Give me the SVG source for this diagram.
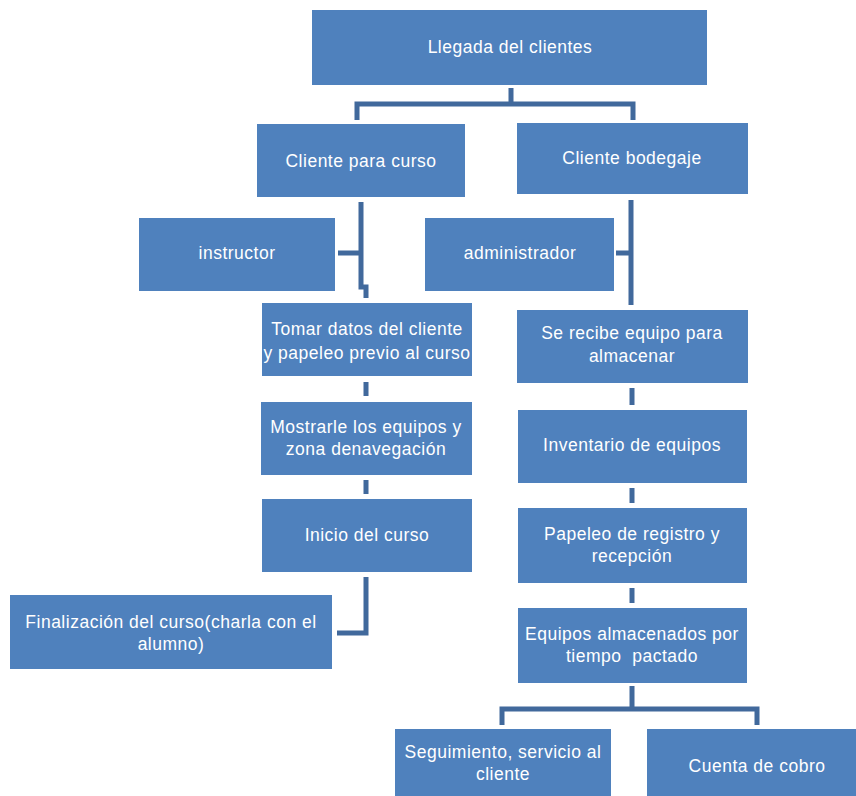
<svg xmlns="http://www.w3.org/2000/svg" width="856" height="796" viewBox="0 0 856 796">
<style>
.box{fill:#4F81BD}
.t{font-family:"Liberation Sans",Arial,sans-serif;font-size:17.5px;letter-spacing:0.5px;fill:#ffffff;text-anchor:middle}
.c{fill:none;stroke:#41699C;stroke-width:5;stroke-linejoin:miter}
</style>
<rect width="856" height="796" fill="#ffffff"/>
<g id="connectors">
<path class="c" d="M511,88 V104 M357,120 V104 H633 V120"/>
<path class="c" d="M361,202 V287 H366 V298 M338,253 H361"/>
<path class="c" d="M631,200 V305 M616,253 H631"/>
<path class="c" d="M366,382 V396 M366,480 V494 M366,577 V633 H337"/>
<path class="c" d="M632,388 V405 M632,488 V503 M632,588 V603"/>
<path class="c" d="M632,686 V709 M502,725 V709 H757 V725"/>
</g>
<g id="n-llegada"><rect class="box" x="312" y="10" width="395" height="75"/><text class="t" x="510" y="53">Llegada del clientes</text></g>
<g id="n-curso"><rect class="box" x="257" y="124" width="208" height="73"/><text class="t" x="361" y="167">Cliente para curso</text></g>
<g id="n-bodegaje"><rect class="box" x="517" y="123" width="231" height="71"/><text class="t" x="632" y="164">Cliente bodegaje</text></g>
<g id="n-instructor"><rect class="box" x="139" y="218" width="196" height="73"/><text class="t" x="237" y="259">instructor</text></g>
<g id="n-admin"><rect class="box" x="425" y="218" width="189" height="73"/><text class="t" x="520" y="259">administrador</text></g>
<g id="n-tomar"><rect class="box" x="262" y="303" width="210" height="73"/><text class="t" x="367" y="335">Tomar datos del cliente</text><text class="t" x="367" y="359">y papeleo previo al curso</text></g>
<g id="n-recibe"><rect class="box" x="517" y="310" width="231" height="73"/><text class="t" x="632" y="339">Se recibe equipo para</text><text class="t" x="632" y="362">almacenar</text></g>
<g id="n-mostrar"><rect class="box" x="261" y="402" width="211" height="73"/><text class="t" x="366" y="433">Mostrarle los equipos y</text><text class="t" x="366" y="455">zona denavegación</text></g>
<g id="n-inventario"><rect class="box" x="518" y="410" width="229" height="73"/><text class="t" x="632" y="451">Inventario de equipos</text></g>
<g id="n-inicio"><rect class="box" x="262" y="499" width="210" height="73"/><text class="t" x="367" y="541">Inicio del curso</text></g>
<g id="n-papeleo"><rect class="box" x="518" y="508" width="229" height="75"/><text class="t" x="632" y="540">Papeleo de registro y</text><text class="t" x="632" y="562">recepción</text></g>
<g id="n-final"><rect class="box" x="10" y="595" width="322" height="74"/><text class="t" x="171" y="628">Finalización del curso(charla con el</text><text class="t" x="171" y="650">alumno)</text></g>
<g id="n-equipos"><rect class="box" x="518" y="608" width="229" height="75"/><text class="t" x="632" y="640">Equipos almacenados por</text><text class="t" x="632" y="662" style="white-space:pre">tiempo  pactado</text></g>
<g id="n-seguimiento"><rect class="box" x="395" y="729" width="216" height="67"/><text class="t" x="503" y="758">Seguimiento, servicio al</text><text class="t" x="503" y="780">cliente</text></g>
<g id="n-cuenta"><rect class="box" x="647" y="729" width="209" height="67"/><text class="t" x="757" y="772">Cuenta de cobro</text></g>
</svg>
